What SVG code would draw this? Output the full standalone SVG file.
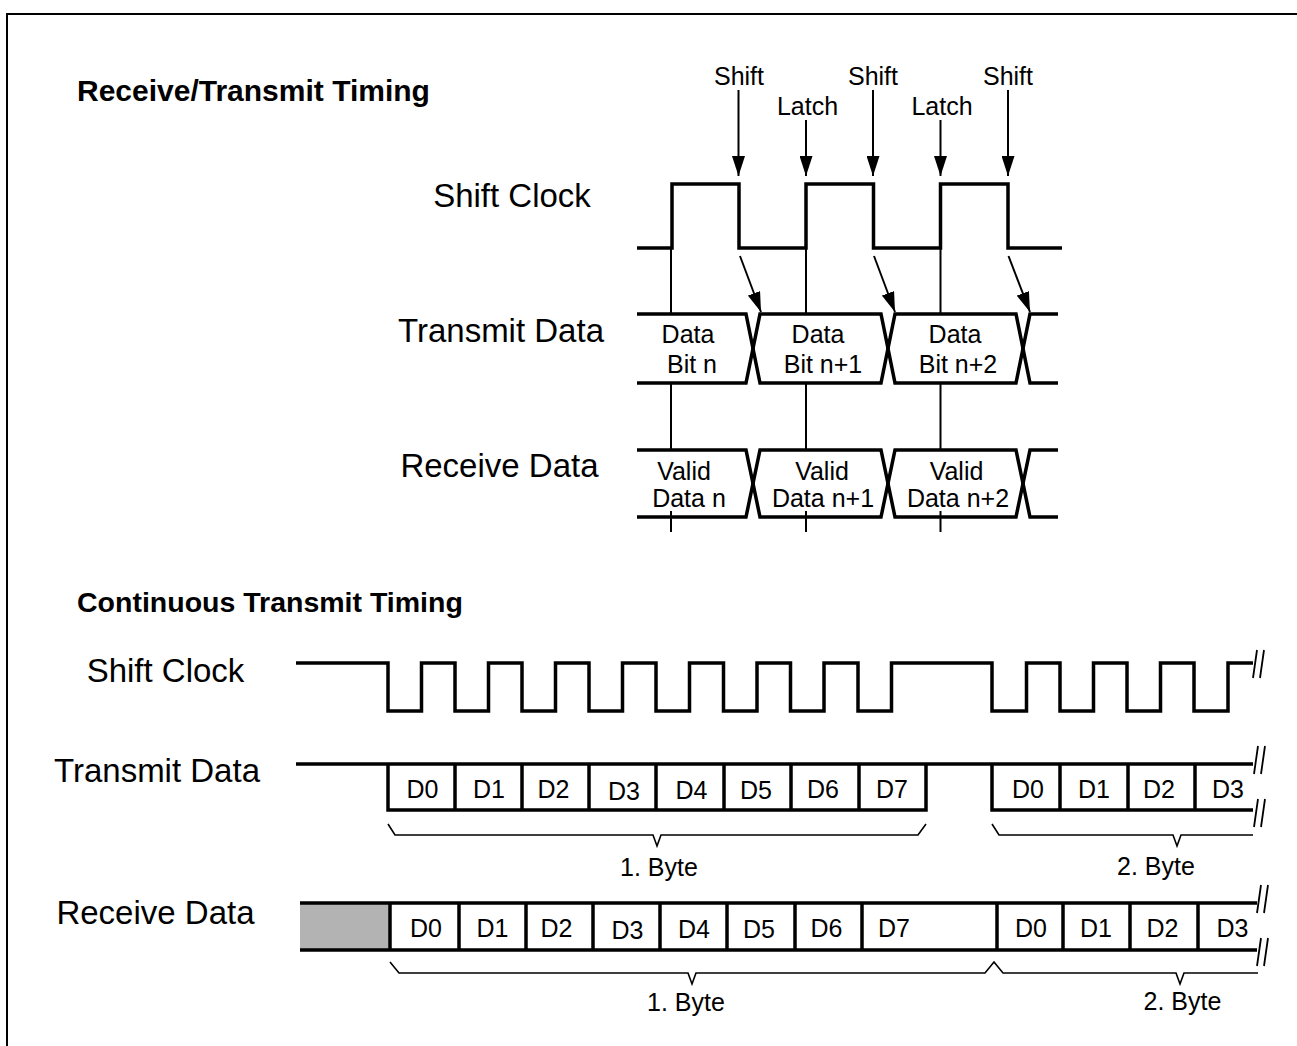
<svg xmlns="http://www.w3.org/2000/svg" width="1297" height="1046" viewBox="0 0 1297 1046">
<style>
text{font-family:"Liberation Sans",Arial,Helvetica,sans-serif;fill:#000}
.ttl{font-size:28.5px;font-weight:bold}
.lbl{font-size:33px;text-anchor:middle}
.sm{font-size:25px;text-anchor:middle}
.sig{fill:none;stroke:#000;stroke-width:3.5;stroke-linejoin:miter;stroke-linecap:butt}
.thin{fill:none;stroke:#000;stroke-width:2}
.br{fill:none;stroke:#000;stroke-width:1.6}
.frame{fill:none;stroke:#000;stroke-width:2}
</style>
<defs>
<marker id="ah" markerUnits="userSpaceOnUse" markerWidth="20" markerHeight="13" refX="20" refY="6.5" orient="auto">
<path d="M0,0 L20,6.5 L0,13 z" fill="#000"/>
</marker>
<marker id="ah2" markerUnits="userSpaceOnUse" markerWidth="20" markerHeight="13" refX="20" refY="6.5" orient="auto">
<path d="M0,0 L20,6.5 L0,13 z" fill="#000"/>
</marker>
<g id="brk">
<path d="M0,14 L4,-14 M7,14 L11,-14" fill="none" stroke="#000" stroke-width="1.8"/>
</g>
</defs>
<rect width="1297" height="1046" fill="#fff"/>
<path class="frame" d="M7,1050 V14 H1300"/>

<g id="title-rt"><text class="ttl" x="77" y="101" style="font-size:30px">Receive/Transmit Timing</text></g>
<g id="title-ct"><text class="ttl" x="77" y="612">Continuous Transmit Timing</text></g>

<!-- Receive/Transmit timing -->
<g id="rt-labels">
<text class="lbl" x="512" y="207">Shift Clock</text>
<text class="lbl" x="501" y="342">Transmit Data</text>
<text class="lbl" x="499.5" y="477">Receive Data</text>
</g>
<g id="rt-events">
<text class="sm" x="739" y="85">Shift</text>
<text class="sm" x="873" y="85">Shift</text>
<text class="sm" x="1008" y="85">Shift</text>
<text class="sm" x="807.5" y="115">Latch</text>
<text class="sm" x="942" y="115">Latch</text>
</g>
<g id="rt-clock">
<path class="sig" d="M637,248 H672 V184 H739 V248 H806 V184 H873.5 V248 H940.5 V184 H1008 V248 H1062"/>
</g>
<g id="rt-tx">
<path class="sig" d="M637,314 H746 L760,383 H881 L895,314 H1016 L1030,383 H1058"/>
<path class="sig" d="M637,383 H746 L760,314 H881 L895,383 H1016 L1030,314 H1058"/>
<text class="sm" x="688" y="343">Data</text>
<text class="sm" x="692" y="373">Bit n</text>
<text class="sm" x="818" y="343">Data</text>
<text class="sm" x="823" y="373">Bit n+1</text>
<text class="sm" x="955" y="343">Data</text>
<text class="sm" x="958" y="373">Bit n+2</text>
</g>
<g id="rt-rx">
<path class="sig" d="M637,450 H746 L760,517 H881 L895,450 H1016 L1030,517 H1058"/>
<path class="sig" d="M637,517 H746 L760,450 H881 L895,517 H1016 L1030,450 H1058"/>
<text class="sm" x="684" y="480">Valid</text>
<text class="sm" x="689" y="507">Data n</text>
<text class="sm" x="822" y="480">Valid</text>
<text class="sm" x="823" y="507">Data n+1</text>
<text class="sm" x="956.5" y="480">Valid</text>
<text class="sm" x="958" y="507">Data n+2</text>
</g>
<g id="connectors">
<path class="thin" d="M671,248 V314 M671,383 V450 M671,511 V532 M806,248 V314 M806,383 V450 M806,511 V532 M940.5,248 V314 M940.5,383 V450 M940.5,511 V532"/>
<line class="thin" x1="738.5" y1="90" x2="738.5" y2="176" marker-end="url(#ah)"/>
<line class="thin" x1="873" y1="90" x2="873" y2="176" marker-end="url(#ah)"/>
<line class="thin" x1="1008" y1="90" x2="1008" y2="176" marker-end="url(#ah)"/>
<line class="thin" x1="806" y1="120" x2="806" y2="176" marker-end="url(#ah)"/>
<line class="thin" x1="940.5" y1="120" x2="940.5" y2="176" marker-end="url(#ah)"/>
<line class="thin" x1="740" y1="256" x2="761" y2="312" marker-end="url(#ah2)"/>
<line class="thin" x1="874" y1="256" x2="895" y2="312" marker-end="url(#ah2)"/>
<line class="thin" x1="1008.5" y1="256" x2="1030" y2="312" marker-end="url(#ah2)"/>
</g>

<!-- Continuous transmit timing -->
<g id="ct-labels">
<text class="lbl" x="165.5" y="682">Shift Clock</text>
<text class="lbl" x="157" y="782">Transmit Data</text>
<text class="lbl" x="155.5" y="924">Receive Data</text>
</g>
<g id="ct-clock">
<path class="sig" d="M296,663 H388 V711 H421.5 V663 H455 V711 H488.5 V663 H522 V711 H555.5 V663 H589 V711 H622.5 V663 H656 V711 H689.5 V663 H723.5 V711 H757 V663 H790.5 V711 H824 V663 H858 V711 H891.5 V663 H992 V711 H1026.5 V663 H1060 V711 H1093.5 V663 H1127 V711 H1160.5 V663 H1194 V711 H1228 V663 H1253"/>
<use href="#brk" x="1253" y="664"/>
</g>
<g id="ct-tx">
<path class="sig" d="M296,764 H1253"/>
<path class="sig" d="M388,764 V810 H926 V764 M455,764 V810 M522,764 V810 M589,764 V810 M656,764 V810 M724,764 V810 M791,764 V810 M859,764 V810"/>
<path class="sig" d="M992,764 V810 H1253 M1060,764 V810 M1128,764 V810 M1195,764 V810"/>
<use href="#brk" x="1254" y="760"/>
<use href="#brk" x="1254" y="813"/>
<text class="sm" x="422.5" y="798">D0</text>
<text class="sm" x="489" y="798">D1</text>
<text class="sm" x="553.5" y="798">D2</text>
<text class="sm" x="624" y="800">D3</text>
<text class="sm" x="691.5" y="799">D4</text>
<text class="sm" x="756" y="799">D5</text>
<text class="sm" x="823" y="798">D6</text>
<text class="sm" x="892" y="798">D7</text>
<text class="sm" x="1028" y="798">D0</text>
<text class="sm" x="1094" y="798">D1</text>
<text class="sm" x="1159" y="798">D2</text>
<text class="sm" x="1228" y="798">D3</text>
<path class="br" d="M388,824 L395,835 H653 L657,846 L661,835 H918 L926,824"/>
<path class="br" d="M992,824 L999,835 H1173 L1177,846 L1181,835 H1253"/>
<text class="sm" x="659" y="876">1. Byte</text>
<text class="sm" x="1156" y="875">2. Byte</text>
</g>
<g id="ct-rx">
<rect x="300" y="903" width="90" height="47" fill="#b3b3b3"/>
<path class="sig" d="M300,903 H1257 M300,950 H1257"/>
<path class="sig" d="M390,903 V950 M459,903 V950 M526,903 V950 M593,903 V950 M660,903 V950 M727,903 V950 M795,903 V950 M862,903 V950 M997,903 V950 M1063,903 V950 M1130,903 V950 M1198,903 V950"/>
<use href="#brk" x="1257" y="899"/>
<use href="#brk" x="1257" y="952"/>
<text class="sm" x="426" y="937">D0</text>
<text class="sm" x="492.5" y="937">D1</text>
<text class="sm" x="556.5" y="937">D2</text>
<text class="sm" x="627.5" y="939">D3</text>
<text class="sm" x="694" y="938">D4</text>
<text class="sm" x="759" y="938">D5</text>
<text class="sm" x="826.5" y="937">D6</text>
<text class="sm" x="894" y="937">D7</text>
<text class="sm" x="1031" y="937">D0</text>
<text class="sm" x="1096" y="937">D1</text>
<text class="sm" x="1162.5" y="937">D2</text>
<text class="sm" x="1232.5" y="937">D3</text>
<path class="br" d="M390,962 L399,973 H688 L692,984 L696,973 H985 L994,962 L1003,973 H1176 L1180,984 L1184,973 H1258"/>
<text class="sm" x="686" y="1011">1. Byte</text>
<text class="sm" x="1182.5" y="1010">2. Byte</text>
</g>
</svg>
